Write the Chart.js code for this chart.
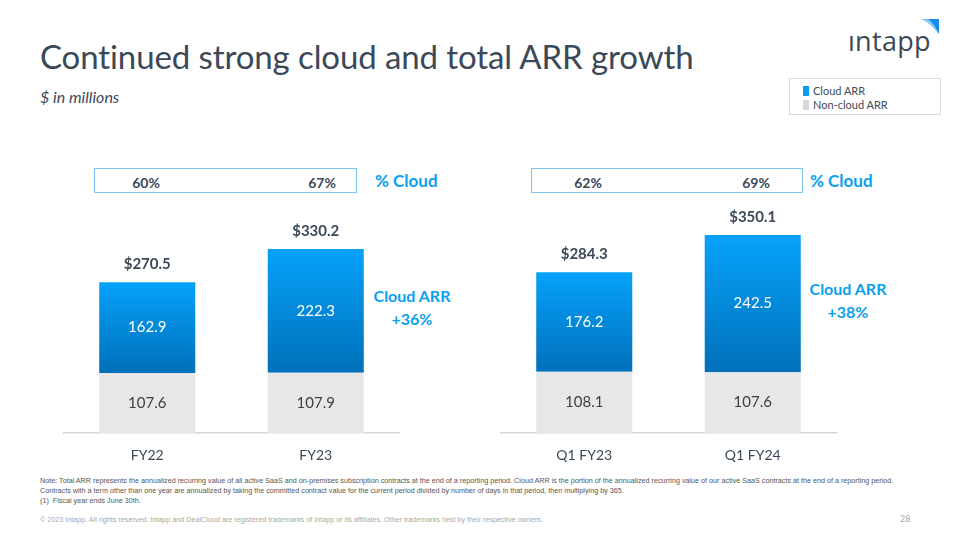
<!DOCTYPE html>
<html><head><meta charset="utf-8">
<script src="https://cdn.jsdelivr.net/npm/chart.js@4.4.0/dist/chart.umd.min.js"></script>
<style>
html,body{margin:0;padding:0;background:#fff;}
body{width:960px;height:540px;position:relative;overflow:hidden;font-family:Lato,"Open Sans",sans-serif;color:#3B4858;}
.abs{position:absolute;white-space:nowrap;}
#title{left:40px;top:36px;font-size:33px;color:#3B4858;letter-spacing:-0.1px;}
#sub{left:40px;top:87px;font-size:16px;font-style:italic;color:#3B4858;}
#legend{left:789px;top:78px;width:152px;height:37px;border:1px solid #D3DEE8;box-sizing:border-box;font-size:11px;color:#404A56;}
.lg{position:absolute;left:13px;}
.sw{display:inline-block;width:6px;height:10px;vertical-align:-1px;margin-right:4px;}
.pbox{position:absolute;border:1.5px solid #7CC8F2;box-sizing:border-box;height:25px;top:168px;}
.pct{position:absolute;top:174px;font-size:14px;font-weight:bold;color:#3B4858;transform:translateX(-50%);}
.pcl{position:absolute;top:170px;font-size:17px;font-weight:bold;color:#0AA0F0;}
.grow{position:absolute;font-size:16px;font-weight:bold;color:#0AA0F0;text-align:center;line-height:23px;transform:translateX(-50%);}
.note{font-size:7.2px;color:#555;left:40px;font-family:"Liberation Sans Narrow","Liberation Sans",sans-serif;}
canvas{position:absolute;}
</style></head>
<body>
<div id="title" class="abs">Continued strong cloud and total ARR growth</div>
<div id="sub" class="abs">$ in millions</div>
<div class="abs" style="left:848px;top:22px;font-size:27px;color:#3B4858;letter-spacing:0.3px;font-family:'Open Sans',sans-serif;">ıntapp</div>
<svg class="abs" style="left:922px;top:19px" width="18" height="16" viewBox="0 0 18 16">
  <path d="M0 0 L17 0 L17 15 Q10 5 0 0 Z" fill="#1A8BE6"/>
  <path d="M0 0 L6 0 Q12 4 17 15 Q10 5 0 0 Z" fill="#7FCBF7"/>
</svg>
<div id="legend" class="abs">
  <div class="lg" style="top:5px"><span class="sw" style="background:#0A9BF2"></span>Cloud ARR</div>
  <div class="lg" style="top:19px"><span class="sw" style="background:#D5D8DC"></span>Non-cloud ARR</div>
</div>

<div class="pbox" style="left:94px;width:263px"></div>
<div class="pbox" style="left:531px;width:272px"></div>
<div id="pctA"></div><div id="pctB"></div>
<div class="pcl" style="left:375px">% Cloud</div>
<div class="pcl" style="left:810px">% Cloud</div>
<div id="growA" class="grow" style="left:412px;top:284px"></div>
<div id="growB" class="grow" style="left:848px;top:277px"></div>

<canvas id="cA" width="337" height="273" style="left:63px;top:200px;width:337px;height:273px"></canvas>
<canvas id="cB" width="337" height="273" style="left:500px;top:200px;width:337px;height:273px"></canvas>

<div class="abs note" style="top:476px">Note: Total ARR represents the annualized recurring value of all active SaaS and on-premises subscription contracts at the end of a reporting period. Cloud ARR is the portion of the annualized recurring value of our active SaaS contracts at the end of a reporting period.</div>
<div class="abs note" style="top:486px">Contracts with a term other than one year are annualized by taking the committed contract value for the current period divided by number of days in that period, then multiplying by 365.</div>
<div class="abs note" style="top:496px">(1)&nbsp; Fiscal year ends June 30th.</div>
<div class="abs note" style="top:515px;color:#A8A8A8">© 2023 Intapp. All rights reserved. Intapp and DealCloud are registered trademarks of Intapp or its affiliates. Other trademarks held by their respective owners.</div>
<div class="abs" style="left:900px;top:513px;font-size:9px;color:#A8A8A8">28</div>

<script>
// ---- data ----
const categoriesA = ['FY22', 'FY23'];
const cloudA = [162.9, 222.3];
const nonCloudA = [107.6, 107.9];
const totalsA = [270.5, 330.2];
const pctCloudA = ['60%', '67%'];
const growthA = ['Cloud ARR', '+36%'];

const categoriesB = ['Q1 FY23', 'Q1 FY24'];
const cloudB = [176.2, 242.5];
const nonCloudB = [108.1, 107.6];
const totalsB = [284.3, 350.1];
const pctCloudB = ['62%', '69%'];
const growthB = ['Cloud ARR', '+38%'];

const FONT = 'Lato, "Open Sans", sans-serif';

function fillPct(id, arr, centers){
  const el = document.getElementById(id);
  arr.forEach((t,i)=>{
    const d = document.createElement('div');
    d.className='pct'; d.style.left = centers[i]+'px'; d.textContent = t;
    el.appendChild(d);
  });
}
fillPct('pctA', pctCloudA, [146, 322]);
fillPct('pctB', pctCloudB, [588, 756]);
document.getElementById('growA').innerHTML = growthA.join('<br>');
document.getElementById('growB').innerHTML = growthB.join('<br>');

const labelPlugin = {
  id: 'barLabels',
  afterDatasetsDraw(chart, args, opts){
    const ctx = chart.ctx;
    const totals = opts.totals;
    ctx.save();
    ctx.textAlign = 'center';
    ctx.textBaseline = 'middle';
    const m0 = chart.getDatasetMeta(0), m1 = chart.getDatasetMeta(1);
    m0.data.forEach((bar, i)=>{
      const b1 = m1.data[i];
      ctx.font = '15px ' + FONT;
      ctx.fillStyle = '#404040';
      ctx.fillText(chart.data.datasets[0].data[i].toFixed(1), bar.x, (bar.y + bar.base)/2);
      ctx.fillStyle = '#FFFFFF';
      ctx.fillText(chart.data.datasets[1].data[i].toFixed(1), b1.x, (b1.y + b1.base)/2);
      ctx.font = 'bold 15px ' + FONT;
      ctx.fillStyle = '#3B4858';
      ctx.fillText('$' + totals[i].toFixed(1), b1.x, b1.y - 18);
    });
    ctx.restore();
  }
};

// per-bar vertical gradient, applied once element geometry is known
const gradPlugin = {
  id: 'barGrad',
  beforeDatasetsDraw(chart){
    const meta = chart.getDatasetMeta(1);
    meta.data.forEach(el=>{
      const g = chart.ctx.createLinearGradient(0, el.y, 0, el.base);
      g.addColorStop(0, '#06A2FA');
      g.addColorStop(1, '#0070BA');
      el.options = Object.assign({}, el.options, {backgroundColor: g});
    });
  }
};

function makeChart(id, cats, nonCloud, cloud, totals, yMax){
  return new Chart(document.getElementById(id), {
    type: 'bar',
    data: {
      labels: cats,
      datasets: [
        {label:'Non-cloud ARR', data: nonCloud, backgroundColor:'#E7E7E7', borderWidth:0},
        {label:'Cloud ARR', data: cloud, backgroundColor: '#0A9BF2', borderWidth:0}
      ]
    },
    options: {
      responsive:false, animation:false,
      datasets:{bar:{categoryPercentage:1, barPercentage:0.57}},
      layout:{padding:0},
      plugins:{legend:{display:false}, tooltip:{enabled:false}, barLabels:{totals}},
      scales:{
        x:{stacked:true, grid:{display:false}, border:{display:true,color:'#D6D6D6',width:1.5},
           ticks:{color:'#3B4858', font:{family:FONT,size:14}, padding:6},
           afterFit(s){ s.height = 40; }},
        y:{stacked:true, display:false, min:0, max:yMax}
      }
    },
    plugins:[gradPlugin, labelPlugin]
  });
}
makeChart('cA', categoriesA, nonCloudA, cloudA, totalsA, 418);
makeChart('cB', categoriesB, nonCloudB, cloudB, totalsB, 412);
</script>
</body></html>
